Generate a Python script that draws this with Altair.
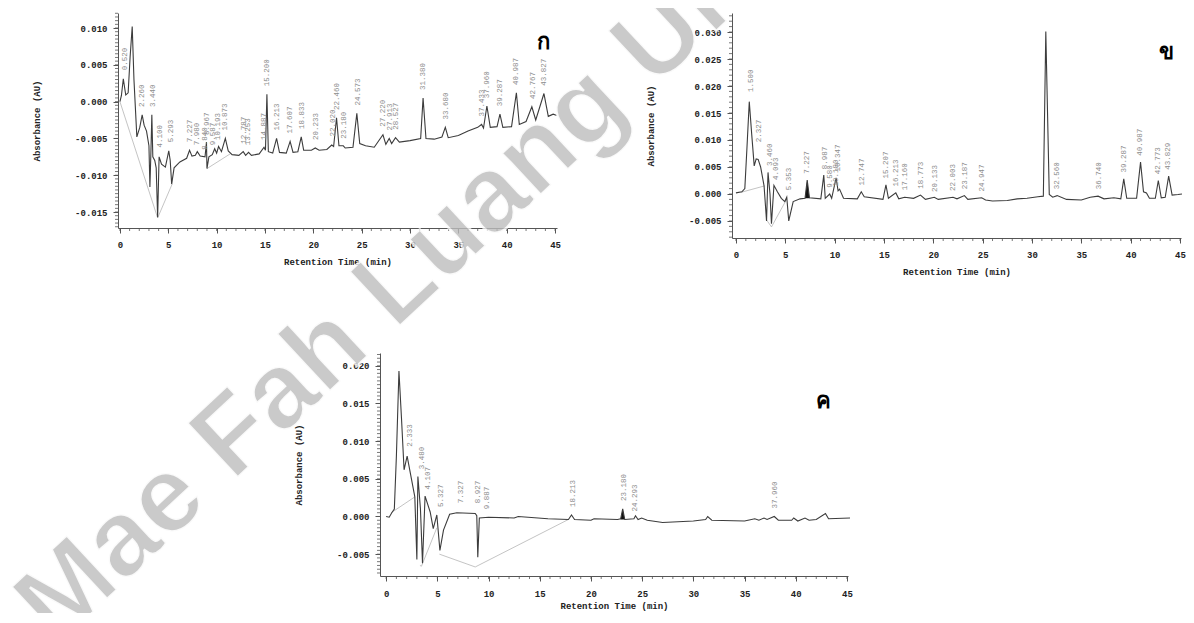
import altair as alt
import pandas as pd

# ---------------- Panel ก (A) ----------------
A_time = [0.0, 0.15, 0.35, 0.6, 0.85, 1.05, 1.27, 1.45, 1.75, 2.05, 2.3, 2.5, 2.75, 3.0, 3.1, 3.2, 3.3, 3.4,
          3.6, 3.75, 3.9, 4.05, 4.3, 4.7, 5.05, 5.2, 5.35, 5.6, 6.2, 6.9, 7.2, 7.45, 7.8, 8.0, 8.3, 8.8, 8.95,
          9.0, 9.2, 9.55, 9.8, 10.0, 10.2, 10.5, 10.9, 11.2, 11.6, 12.3, 12.75, 13.0, 13.3, 13.6, 14.4, 14.9,
          15.05, 15.2, 15.35, 15.8, 16.2, 16.5, 17.2, 17.6, 17.9, 18.4, 18.75, 19.0, 19.8, 20.2, 20.6, 21.4,
          21.9, 22.1, 22.4, 22.65, 23.1, 23.3, 24.1, 24.5, 24.8, 25.4, 26.3, 27.2, 27.5, 27.85, 28.1, 28.5,
          28.9, 30.0, 31.1, 31.35, 31.65, 32.5, 33.3, 33.65, 33.95, 35.0, 36.0, 37.0, 37.4, 37.6, 37.95, 38.3,
          39.0, 39.3, 39.6, 40.5, 41.0, 41.3, 42.0, 42.6, 43.0, 43.85, 44.3, 44.8, 45.2]
A_abs = [0.0000, 0.0008, 0.0031, 0.0009, 0.0012, 0.0060, 0.0102, 0.0030, -0.0048, -0.0035, -0.0018, -0.0032,
         -0.0040, -0.0060, -0.0116, -0.0070, -0.0018, -0.0075, -0.0080, -0.0090, -0.0157, -0.0075, -0.0085,
         -0.0089, -0.0067, -0.0080, -0.0112, -0.0090, -0.0082, -0.0077, -0.0066, -0.0074, -0.0073, -0.0068,
         -0.0074, -0.0075, -0.0055, -0.0091, -0.0075, -0.0072, -0.0064, -0.0070, -0.0061, -0.0068, -0.0050,
         -0.0067, -0.0072, -0.0073, -0.0068, -0.0073, -0.0069, -0.0073, -0.0071, -0.0062, -0.0066, 0.0010,
         -0.0068, -0.0070, -0.0050, -0.0069, -0.0070, -0.0054, -0.0069, -0.0068, -0.0048, -0.0066, -0.0066,
         -0.0063, -0.0066, -0.0065, -0.0059, -0.0061, -0.0022, -0.0060, -0.0060, -0.0063, -0.0062, -0.0016,
         -0.0057, -0.0060, -0.0062, -0.0045, -0.0058, -0.0050, -0.0057, -0.0049, -0.0055, -0.0053, -0.0050,
         0.0005, -0.0050, -0.0051, -0.0048, -0.0035, -0.0049, -0.0046, -0.0040, -0.0035, -0.0031, -0.0036,
         -0.0006, -0.0035, -0.0034, -0.0017, -0.0035, -0.0034, 0.0012, -0.0031, -0.0027, -0.0007, -0.0025,
         0.0011, -0.0020, -0.0017, -0.0019]
A_peaks = ["0.520", "2.260", "3.440", "4.100", "5.293", "7.227", "7.980", "8.840", "8.967", "9.587", "10.193",
           "10.873", "12.787", "13.253", "14.887", "15.200", "16.213", "17.607", "18.833", "20.233", "22.020",
           "22.460", "23.180", "24.573", "27.220", "27.913", "28.527", "31.380", "33.680", "37.433", "37.960",
           "39.287", "40.987", "42.767", "43.827"]
A_peak_v = [0.0040, -0.0010, -0.0010, -0.0065, -0.0058, -0.0058, -0.0062, -0.0068, -0.0048, -0.0062, -0.0055,
            -0.0042, -0.0060, -0.0062, -0.0055, 0.0018, -0.0042, -0.0046, -0.0040, -0.0055, -0.0050, -0.0014,
            -0.0053, -0.0008, -0.0037, -0.0042, -0.0041, 0.0013, -0.0027, -0.0023, 0.0002, -0.0009, 0.0020,
            0.0001, 0.0019]
A_base_seg = [1, 1, 1, 2, 2]
A_base_t = [0.0, 3.9, 5.4, 9.0, 11.4]
A_base_v = [0.0, -0.0158, -0.0112, -0.0091, -0.0071]

# ---------------- Panel ข (B) ----------------
B_time = [0.0, 0.6, 0.9, 1.1, 1.35, 1.6, 1.85, 2.05, 2.25, 2.5, 2.85, 3.1, 3.25, 3.45, 3.6, 3.85, 4.2, 4.6,
          4.95, 5.15, 5.35, 5.8, 6.5, 7.0, 7.22, 7.45, 8.6, 8.9, 9.05, 9.5, 9.7, 10.15, 10.35, 10.5, 10.9,
          12.3, 12.7, 13.0, 14.9, 15.2, 15.45, 16.2, 16.5, 17.1, 18.0, 18.7, 19.2, 20.1, 20.5, 22.0, 22.4,
          23.15, 23.5, 24.9, 25.3, 26.0, 27.5, 28.5, 29.5, 30.6, 31.15, 31.4, 31.75, 32.1, 32.55, 33.5, 35.0,
          35.9, 36.7, 37.3, 38.3, 39.0, 39.3, 39.6, 40.6, 41.0, 41.3, 41.6, 41.9, 42.5, 42.8, 43.1, 43.5,
          43.85, 44.2, 44.8, 45.2]
B_abs = [0.0002, 0.0004, 0.0010, 0.0080, 0.0171, 0.0110, 0.0052, 0.0065, 0.0064, 0.0050, 0.0015, -0.0050,
         0.0040, 0.0000, -0.0055, 0.0016, 0.0004, -0.0008, -0.0014, -0.0006, -0.0050, -0.0014, -0.0009,
         -0.0008, 0.0026, -0.0007, -0.0009, 0.0035, -0.0008, 0.0000, -0.0008, 0.0030, 0.0006, 0.0009,
         -0.0008, -0.0009, 0.0004, -0.0005, -0.0010, 0.0017, -0.0008, 0.0002, -0.0009, -0.0006, -0.0008,
         -0.0002, -0.0010, -0.0006, -0.0010, -0.0006, -0.0009, -0.0003, -0.0010, -0.0007, -0.0011, -0.0013,
         -0.0012, -0.0009, -0.0008, -0.0005, -0.0004, 0.0301, -0.0001, -0.0006, -0.0003, -0.0010, -0.0011,
         -0.0006, -0.0004, -0.0009, -0.0007, -0.0009, 0.0028, -0.0008, -0.0008, 0.0059, 0.0004, 0.0002,
         -0.0008, -0.0008, 0.0025, -0.0007, -0.0006, 0.0033, -0.0002, -0.0001, 0.0000]
B_peaks = ["1.500", "2.327", "3.460", "4.093", "5.353", "7.227", "8.987", "9.580", "10.180", "10.347",
           "12.747", "15.207", "16.213", "17.160", "18.773", "20.133", "22.003", "23.187", "24.947", "32.560",
           "36.740", "39.287", "40.987", "42.773", "43.829"]
B_peak_v = [0.0185, 0.0092, 0.0048, 0.0022, 0.0003, 0.0034, 0.0042, 0.0008, 0.0010, 0.0038, 0.0012, 0.0025,
            0.0010, 0.0003, 0.0006, 0.0000, 0.0002, 0.0005, 0.0001, 0.0005, 0.0005, 0.0036, 0.0067, 0.0033,
            0.0041]
B_base_seg = [1, 1, 2, 2, 2]
B_base_t = [0.5, 2.9, 3.1, 3.6, 5.1]
B_base_v = [0.0003, 0.0015, -0.0048, -0.0061, -0.0011]
B_fill_t = [7.0, 7.22, 7.45]
B_fill_v = [-0.0008, 0.0026, -0.0007]

# ---------------- Panel ค (C) ----------------
C_time = [0.0, 0.3, 0.55, 0.8, 1.0, 1.25, 1.5, 1.75, 2.05, 2.4, 2.8, 3.0, 3.1, 3.35, 3.55, 3.8, 4.3, 4.6,
          4.95, 5.25, 5.6, 6.2, 6.9, 8.7, 8.85, 8.95, 9.1, 10.0, 12.5, 12.9, 15.8, 17.8, 18.1, 18.4, 20.0,
          20.3, 22.6, 22.9, 23.1, 23.3, 24.2, 24.35, 24.6, 24.95, 25.5, 27.0, 30.0, 31.2, 31.4, 31.8, 35.0,
          36.0, 36.4, 36.9, 37.2, 37.9, 38.3, 39.6, 39.8, 40.2, 40.9, 41.3, 42.0, 42.9, 43.2, 45.3]
C_abs = [0.0000, -0.0001, 0.0005, 0.0010, 0.0080, 0.0193, 0.0130, 0.0062, 0.0080, 0.0055, 0.0026, -0.0057,
         0.0053, 0.0010, -0.0062, 0.0027, 0.0006, -0.0016, 0.0002, -0.0045, -0.0018, 0.0003, 0.0005, 0.0004,
         0.0001, -0.0054, -0.0002, -0.0001, -0.0002, 0.0000, -0.0003, -0.0004, 0.0002, -0.0004, -0.0005,
         -0.0003, -0.0004, -0.0003, 0.0010, -0.0004, -0.0003, 0.0001, -0.0004, -0.0002, -0.0005, -0.0008,
         -0.0006, -0.0004, 0.0000, -0.0005, -0.0006, -0.0003, -0.0005, -0.0002, -0.0004, 0.0000, -0.0005,
         -0.0005, -0.0002, -0.0006, -0.0002, -0.0005, -0.0004, 0.0004, -0.0003, -0.0002]
C_peaks = ["2.333", "3.480", "4.107", "5.327", "7.327", "8.927", "9.887", "18.213", "23.180", "24.293",
           "37.960"]
C_peak_v = [0.0090, 0.0060, 0.0033, 0.0010, 0.0015, 0.0015, 0.0007, 0.0010, 0.0018, 0.0004, 0.0008]
C_base_seg = [1, 1, 2, 2, 2, 3, 3, 3]
C_base_t = [0.5, 2.8, 3.3, 3.45, 4.95, 5.2, 8.7, 17.8]
C_base_v = [0.0005, 0.0026, -0.0065, -0.0066, -0.0015, -0.0050, -0.0067, -0.0004]
C_fill_t = [22.9, 23.1, 23.3]
C_fill_v = [-0.0003, 0.0010, -0.0004]

# panel letters
panel_letters = ["ก", "ข", "ค"]
letter_t = [43.8, 43.6, 42.7]
letter_v = [0.0081, 0.0263, 0.0153]

WATERMARK = "Mae Fah Luang Uni"

MONO = "Liberation Mono"
LINE_COL = "#3c3c3c"
TICK_COL = "#555"


def fmt_expr():
    return "(datum.value < -0.0000001 ? '-' : '') + format(abs(datum.value), '.3f')"


def panel(time, absorb, peaks, peak_v, base_seg, base_t, base_v, fill_t, fill_v,
          letter, lt, lv, tdom, ydom, ymajor, ystep, width, height, label_pad, title_pad, extra=None):
    xs = alt.Scale(domain=tdom, nice=False, zero=False)
    ys = alt.Scale(domain=ydom, nice=False, zero=False)
    trace = pd.DataFrame({"t": time, "v": absorb})
    xmaj = alt.Axis(values=list(range(0, 46, 5)), title="Retention Time (min)", orient="bottom",
                    grid=False, tickSize=5, labelPadding=label_pad, titlePadding=title_pad, labelFont=MONO,
                    labelFontSize=9, labelFontWeight="bold", titleFont=MONO, titleFontSize=9,
                    titleFontWeight="bold", labelColor="#222", titleColor="#222", domainColor=TICK_COL,
                    tickColor=TICK_COL, labelFlush=False)
    ymaj = alt.Axis(values=ymajor, title="Absorbance (AU)", orient="left", grid=False, tickSize=5,
                    labelPadding=6, titlePadding=33, labelFont=MONO, labelFontSize=9,
                    labelFontWeight="bold", titleFont=MONO, titleFontSize=9, titleFontWeight="bold",
                    labelColor="#222", titleColor="#222", domainColor=TICK_COL, tickColor=TICK_COL,
                    labelExpr=fmt_expr(), labelFlush=False)
    n = int(round((ydom[1] - ydom[0]) / ystep)) + 2
    start = round(ydom[0] / ystep) * ystep
    yminor = [round(start + i * ystep, 5) for i in range(n) if ydom[0] <= start + i * ystep <= ydom[1]]
    xminor = list(range(0, 46))

    layers = []
    bdf = pd.DataFrame({"seg": base_seg, "t": base_t, "v": base_v})
    layers.append(alt.Chart(bdf).mark_line(color="#b5b5b5", strokeWidth=0.8).encode(
        x=alt.X("t:Q", scale=xs, axis=None), y=alt.Y("v:Q", scale=ys, axis=None), detail="seg:N"))
    if fill_t:
        fdf = pd.DataFrame({"t": fill_t, "v": fill_v, "b": [min(fill_v)] * len(fill_t)})
        layers.append(alt.Chart(fdf).mark_area(color="#111").encode(
            x=alt.X("t:Q", scale=xs, axis=None), y=alt.Y("v:Q", scale=ys, axis=None), y2="b:Q"))
    layers.append(alt.Chart(trace).mark_line(color=LINE_COL, strokeWidth=1.1).encode(
        x=alt.X("t:Q", scale=xs, axis=xmaj), y=alt.Y("v:Q", scale=ys, axis=ymaj)))
    # minor ticks
    layers.append(alt.Chart(pd.DataFrame({"t": xminor})).mark_rule(color=TICK_COL, strokeWidth=0.8).encode(
        x=alt.X("t:Q", scale=xs, axis=None), y=alt.value(height), y2=alt.value(height + 3)))
    layers.append(alt.Chart(pd.DataFrame({"v": yminor})).mark_rule(color=TICK_COL, strokeWidth=0.8).encode(
        y=alt.Y("v:Q", scale=ys, axis=None), x=alt.value(0), x2=alt.value(-3)))
    pdf = pd.DataFrame({"lab": peaks, "t": [float(p) for p in peaks], "v": peak_v})
    layers.append(alt.Chart(pdf).mark_text(angle=270, align="left", baseline="middle", dx=2,
                                           font=MONO, fontSize=7.5, color="#8c8c8c").encode(
        x=alt.X("t:Q", scale=xs, axis=None), y=alt.Y("v:Q", scale=ys, axis=None), text="lab:N"))
    ldf = pd.DataFrame({"lab": [letter], "t": [lt], "v": [lv]})
    layers.append(alt.Chart(ldf).mark_text(font="Noto Sans", fontSize=22, fontWeight="bold",
                                           color="#000").encode(
        x=alt.X("t:Q", scale=xs, axis=None), y=alt.Y("v:Q", scale=ys, axis=None), text="lab:N"))
    if extra is not None:
        layers.append(extra)
    return alt.layer(*layers).resolve_axis(x="independent", y="independent").properties(
        width=width, height=height)


chartA = panel(A_time, A_abs, A_peaks, A_peak_v, A_base_seg, A_base_t, A_base_v, [], [],
               panel_letters[0], letter_t[0], letter_v[0], [-0.2, 45.2], [-0.01717, 0.01204],
               [-0.015, -0.01, -0.005, 0.0, 0.005, 0.01], 0.0005, 439, 215, 7, 8)
chartB = panel(B_time, B_abs, B_peaks, B_peak_v, B_base_seg, B_base_t, B_base_v, B_fill_t, B_fill_v,
               panel_letters[1], letter_t[1], letter_v[1], [-0.4, 45.1], [-0.00815, 0.03352],
               [-0.005, 0.0, 0.005, 0.01, 0.015, 0.02, 0.025, 0.03], 0.001, 449, 225, 7, 8)

# watermark across the whole figure (cut off at the page edges, as in the scan)
wm = alt.Chart(pd.DataFrame({"w": [WATERMARK]})).mark_text(
    font="Liberation Sans", fontSize=108, fontWeight="bold", angle=317, align="center",
    baseline="middle", color="#bdbdbd", opacity=0.8, stroke="white", strokeWidth=2.5,
    strokeOpacity=0.9).encode(x=alt.value(17), y=alt.value(-68), text="w:N")

chartC = panel(C_time, C_abs, C_peaks, C_peak_v, C_base_seg, C_base_t, C_base_v, C_fill_t, C_fill_v,
               panel_letters[2], letter_t[2], letter_v[2], [-0.6, 45.1], [-0.0079, 0.0217],
               [-0.005, 0.0, 0.005, 0.01, 0.015, 0.02], 0.0005, 468, 223, 8, 3, extra=wm)

spacer = alt.Chart(pd.DataFrame({"a": [0]})).mark_point(opacity=0).encode(
    x=alt.value(0), y=alt.value(0)).properties(width=252, height=10)

row1 = alt.hconcat(chartA, chartB, spacing=175, bounds="flush")
row2 = alt.hconcat(spacer, chartC, spacing=10, bounds="flush")
# nested flush groups report zero height, so the row gap includes the first row's plot height
chart = alt.vconcat(row1, row2, spacing=340, bounds="flush").properties(
    padding={"left": -10, "top": -101, "right": 0, "bottom": -50}, background="white"
).configure_view(strokeWidth=0, stroke="transparent")

chart.save("out.html", embed_options={"renderer": "svg", "actions": False})
